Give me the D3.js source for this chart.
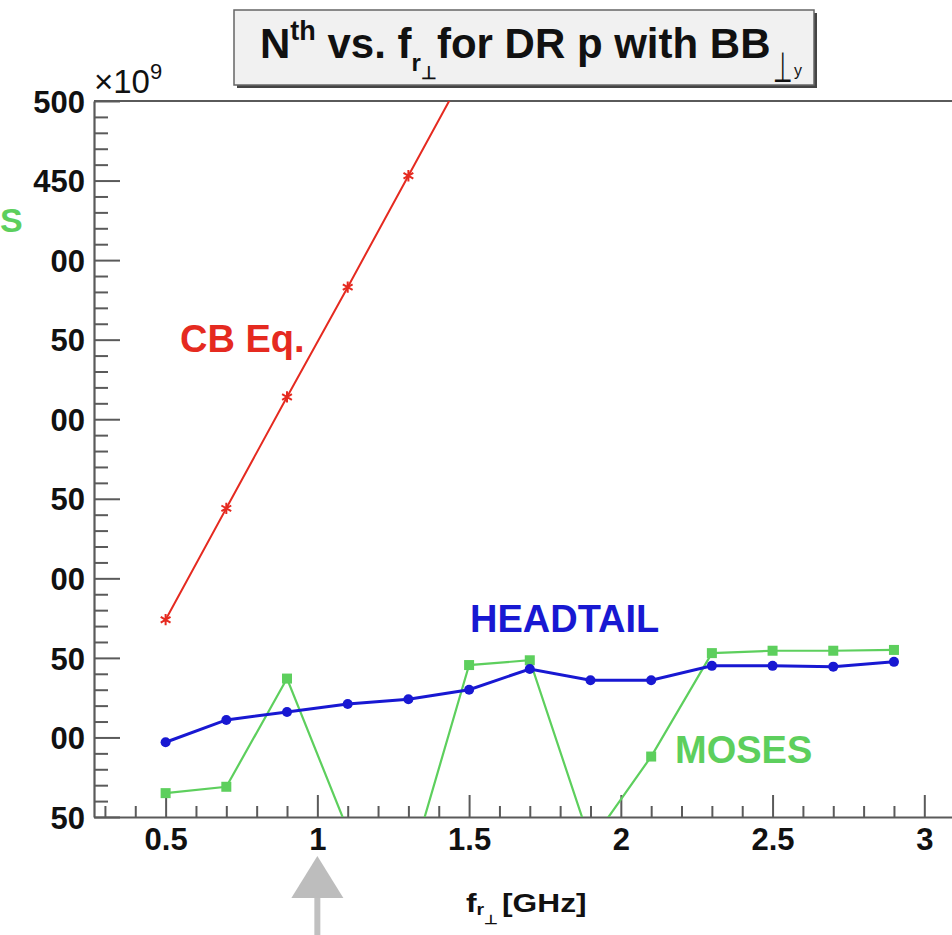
<!DOCTYPE html>
<html>
<head>
<meta charset="utf-8">
<script src="https://cdn.jsdelivr.net/npm/d3@7"></script>
<style>
  html, body { margin: 0; padding: 0; background: #fff; overflow: hidden; }
  svg { display: block; font-family: "Liberation Sans", Arial, Helvetica, sans-serif; }
</style>
</head>
<body>
<svg id="chart" width="952" height="935"></svg>
<script>
// Threshold intensity (units of 1e9) vs. transverse resonator frequency [GHz]
const freqGHz = [0.5, 0.7, 0.9, 1.1, 1.3, 1.5, 1.7, 1.9, 2.1, 2.3, 2.5, 2.7, 2.9];
const cbEqFreq = [0.5, 0.7, 0.9, 1.1, 1.3, 1.5];
const cbEqValues = [174, 244, 314, 383, 453, 523];
const headtailValues = [97, 111, 116, 121, 124, 130, 143, 136, 136, 145, 145, 144.5, 147.5];
const mosesValues = [65, 69, 137, 42, 15, 145.5, 148.5, 34, 88, 153, 154.5, 154.5, 155];

const xMajorTicks = [0.5, 1, 1.5, 2, 2.5, 3];
const xTickLabels = ["0.5", "1", "1.5", "2", "2.5", "3"];
const yMajorTicks = [50, 100, 150, 200, 250, 300, 350, 400, 450, 500];
const yTickLabels = ["50", "100", "150", "200", "250", "300", "350", "400", "450", "500"];
const markedFreq = 1;   // arrow below the axis

const colors = { cb: "#e52a20", headtail: "#1818d2", moses: "#5dcf5d", axis: "#5a5a5a" };

const svg = d3.select("#chart");
const plot = { left: 94, top: 101, bottom: 817, right: 985 };

const x = d3.scaleLinear().domain([0.264, 3.2]).range([plot.left, plot.right]);
const y = d3.scaleLinear().domain([50, 500]).range([plot.bottom, plot.top]);

svg.append("defs").append("clipPath").attr("id", "plotClip")
  .append("rect")
  .attr("x", plot.left).attr("y", plot.top)
  .attr("width", plot.right - plot.left).attr("height", plot.bottom - plot.top);

// ---- axes ----
const yMinor = d3.range(60, 500, 10).filter(v => v % 50 !== 0);
const xMinor = d3.range(3, 32).map(v => v / 10).filter(v => Math.round(v * 10) % 5 !== 0);

const yAxisG = svg.append("g").attr("transform", `translate(${plot.left},0)`)
  .call(d3.axisLeft(y).tickValues(yMajorTicks)
    .tickFormat((d, i) => yTickLabels[i]).tickSize(-26).tickSizeOuter(0).tickPadding(9));
svg.append("g").attr("transform", `translate(${plot.left},0)`)
  .call(d3.axisLeft(y).tickValues(yMinor).tickFormat("").tickSize(-14).tickSizeOuter(0))
  .call(g => g.select(".domain").remove());

const xAxisG = svg.append("g").attr("transform", `translate(0,${plot.bottom})`)
  .call(d3.axisBottom(x).tickValues(xMajorTicks)
    .tickFormat((d, i) => xTickLabels[i]).tickSize(-22).tickSizeOuter(0).tickPadding(11));
svg.append("g").attr("transform", `translate(0,${plot.bottom})`)
  .call(d3.axisBottom(x).tickValues(xMinor).tickFormat("").tickSize(-11).tickSizeOuter(0))
  .call(g => g.select(".domain").remove());

svg.selectAll(".tick line").attr("stroke", colors.axis).attr("stroke-width", 2);
svg.selectAll(".domain").attr("stroke", colors.axis).attr("stroke-width", 2.2);
svg.selectAll(".tick text").attr("fill", "#111").attr("font-size", 31)
  .attr("font-weight", "bold").attr("font-family", "'Liberation Sans', Arial, sans-serif");
yAxisG.selectAll(".tick text").attr("dy", "0.36em");

// top frame line
svg.append("line")
  .attr("x1", plot.left).attr("x2", plot.right)
  .attr("y1", plot.top).attr("y2", plot.top)
  .attr("stroke", colors.axis).attr("stroke-width", 2.2);

// ×10^9 exponent label
const expo = svg.append("text").attr("x", plot.left).attr("y", 93)
  .attr("font-size", 33).attr("fill", "#111");
expo.append("tspan").text("×10");
expo.append("tspan").attr("dy", -14).attr("font-size", 22).text("9");

// ---- series ----
const dataLayer = svg.append("g").attr("clip-path", "url(#plotClip)");
const line = d3.line().x(d => x(d[0])).y(d => y(d[1]));

const cbPts = cbEqFreq.map((f, i) => [f, cbEqValues[i]]);
const htPts = freqGHz.map((f, i) => [f, headtailValues[i]]);
const moPts = freqGHz.map((f, i) => [f, mosesValues[i]]);

dataLayer.append("path").datum(moPts).attr("d", line)
  .attr("fill", "none").attr("stroke", colors.moses).attr("stroke-width", 2.2);
dataLayer.selectAll(".moMark").data(moPts).join("rect")
  .attr("x", d => x(d[0]) - 5).attr("y", d => y(d[1]) - 5)
  .attr("width", 10).attr("height", 10).attr("fill", colors.moses);

dataLayer.append("path").datum(htPts).attr("d", line)
  .attr("fill", "none").attr("stroke", colors.headtail).attr("stroke-width", 3);
dataLayer.selectAll(".htMark").data(htPts).join("circle")
  .attr("cx", d => x(d[0])).attr("cy", d => y(d[1])).attr("r", 5)
  .attr("fill", colors.headtail);

dataLayer.append("path").datum(cbPts).attr("d", line)
  .attr("fill", "none").attr("stroke", colors.cb).attr("stroke-width", 2);
const star = d3.symbol().type(d3.symbolAsterisk).size(90);
dataLayer.selectAll(".cbMark").data(cbPts).join("path")
  .attr("transform", d => `translate(${x(d[0])},${y(d[1])})`)
  .attr("d", star).attr("fill", "none").attr("stroke", colors.cb).attr("stroke-width", 2);

// ---- series labels ----
const lbl = (t, px, py, c) => svg.append("text").attr("x", px).attr("y", py)
  .attr("font-size", 38).attr("font-weight", "bold").attr("fill", c).text(t);
lbl("CB Eq.", 180, 352, colors.cb);
lbl("HEADTAIL", 470, 632, colors.headtail);
lbl("MOSES", 675, 763, colors.moses);

// ---- x-axis title: f_{r_⊥}[GHz] ----
const xt = svg.append("text")
  .attr("transform", "translate(466,912) scale(1.22,1)")
  .attr("font-size", 26).attr("font-weight", "bold").attr("fill", "#111");
xt.append("tspan").text("f");
xt.append("tspan").attr("dy", 3).attr("font-size", 16).text("r");
xt.append("tspan").attr("dy", 9).attr("font-size", 13).text("⊥");
xt.append("tspan").attr("dx", 3).attr("dy", -12).attr("font-size", 26).text("[GHz]");

// ---- marker arrow under f = 1 GHz ----
const ax = x(markedFreq);
svg.append("rect").attr("x", ax - 3).attr("y", 896).attr("width", 6).attr("height", 45)
  .attr("fill", "#c0c0c0");
svg.append("path")
  .attr("d", `M${ax},856 L${ax + 26},898 L${ax - 26},898 Z`)
  .attr("fill", "#bdbdbd");

// ---- side text box (partly outside the page) ----
svg.append("rect").attr("x", -10).attr("y", 197).attr("width", 61).attr("height", 760)
  .attr("fill", "#fff");
svg.append("text").attr("x", 0).attr("y", 232)
  .attr("font-size", 34).attr("font-weight", "bold").attr("fill", colors.moses).text("S");

// ---- title box ----
const tb = { x: 234, y: 10, w: 580, h: 75 };
svg.append("rect").attr("x", tb.x + 3).attr("y", tb.y + 3).attr("width", tb.w).attr("height", tb.h)
  .attr("fill", "#444");
svg.append("rect").attr("x", tb.x).attr("y", tb.y).attr("width", tb.w).attr("height", tb.h)
  .attr("fill", "#f1f1f1").attr("stroke", "#666").attr("stroke-width", 1.5);

const title = svg.append("text").attr("x", 260).attr("y", 58)
  .attr("font-size", 42).attr("font-weight", "bold").attr("fill", "#111");
title.append("tspan").text("N");
title.append("tspan").attr("dy", -18).attr("font-size", 27).text("th");
title.append("tspan").attr("dy", 18).attr("font-size", 42).text(" vs. f");
title.append("tspan").attr("dy", 13).attr("font-size", 24).text("r");
title.append("tspan").attr("dy", 8).attr("font-size", 18).text("⊥");
title.append("tspan").attr("dy", -21).attr("font-size", 42).text("for DR p with BB");

// subscript ⊥_y after BB, drawn slightly tall and narrow
const bbSub = svg.append("text")
  .attr("transform", "translate(773,82) scale(0.8,1.5)")
  .attr("font-size", 28).attr("fill", "#111");
bbSub.append("tspan").text("⊥");
svg.append("text").attr("x", 794).attr("y", 76)
  .attr("font-size", 16).attr("fill", "#111").text("y");
</script>
</body>
</html>
